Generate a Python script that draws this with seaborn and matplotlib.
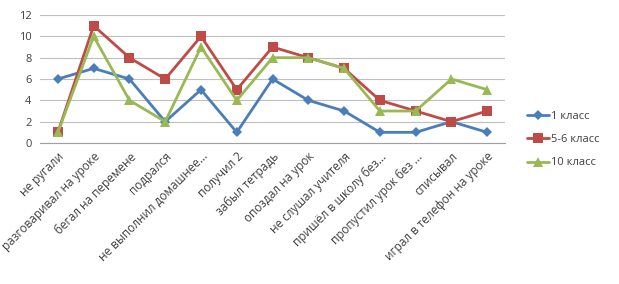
import matplotlib
matplotlib.use("Agg")
import matplotlib.pyplot as plt
import numpy as np
import pandas as pd
import seaborn as sns

CATEGORIES = [
    "не ругали", "разговаривал на уроке", "бегал на перемене", "подрался",
    "не выполнил домашнее...", "получил 2", "забыл тетрадь", "опоздал на урок",
    "не слушал учителя", "пришёл в школу без...", "пропустил урок без ...",
    "списывал", "играл в телефон на уроке",
]
GRADE_1 = [6, 7, 6, 2, 5, 1, 6, 4, 3, 1, 1, 2, 1]
GRADE_5_6 = [1, 11, 8, 6, 10, 5, 9, 8, 7, 4, 3, 2, 3]
GRADE_10 = [1, 10, 4, 2, 9, 4, 8, 8, 7, 3, 3, 6, 5]
SERIES = ["1 класс", "5-6 класс", "10 класс"]
Y_TICKS = [0, 2, 4, 6, 8, 10, 12]

COLORS = {"1 класс": "#4A7EBB", "5-6 класс": "#BE4B48", "10 класс": "#98B954"}
MARKERS = {"1 класс": "D", "5-6 класс": "s", "10 класс": "^"}
SIZES = {"1 класс": 5, "5-6 класс": 7, "10 класс": 7}

wide = pd.DataFrame({"pos": range(len(CATEGORIES)),
                     "1 класс": GRADE_1, "5-6 класс": GRADE_5_6,
                     "10 класс": GRADE_10})
df = wide.melt(id_vars="pos", var_name="series", value_name="value")

sns.set_style("white")
plt.rcParams["font.family"] = ["Open Sans", "DejaVu Sans"]
TXT = "#404040"

fig = plt.figure(figsize=(6.19, 2.84), dpi=100)
ax = fig.add_axes([0.0646, 0.4965, 0.7514, 0.4505])

for s in SERIES:
    sub = df[df["series"] == s]
    sns.lineplot(data=sub, x="pos", y="value", ax=ax, color=COLORS[s],
                 marker=MARKERS[s], markersize=SIZES[s], markeredgewidth=0,
                 linewidth=2, label=s, errorbar=None)

ax.set_xlim(-0.5, len(CATEGORIES) - 0.5)
ax.set_ylim(0, 12)
ax.set_yticks(Y_TICKS)
ax.yaxis.grid(True, color="#bfbfbf", linewidth=0.8)
ax.set_axisbelow(True)
ax.set_xticks(range(len(CATEGORIES)))
ax.set_xticklabels(CATEGORIES, rotation=45, ha="right", rotation_mode="anchor",
                   fontsize=8.5, color=TXT)
ax.set_xticks(np.arange(-0.5, len(CATEGORIES), 1), minor=True)
ax.tick_params(axis="x", which="major", length=0, pad=5)
ax.tick_params(axis="x", which="minor", length=4, color="#a0a0a0", width=0.8)
ax.tick_params(axis="y", length=0, labelsize=8, labelcolor=TXT, pad=6)
ax.set_xlabel("")
ax.set_ylabel("")
for side in ["top", "right", "left"]:
    ax.spines[side].set_visible(False)
ax.spines["bottom"].set_color("#a0a0a0")
ax.spines["bottom"].set_linewidth(0.8)

ax.legend(loc="center left", bbox_to_anchor=(0.835, 0.508),
          bbox_transform=fig.transFigure, frameon=False, fontsize=8,
          handlelength=2.0, handletextpad=0.2, labelspacing=1.1,
          labelcolor=TXT)

fig.savefig("out.png", dpi=100)
